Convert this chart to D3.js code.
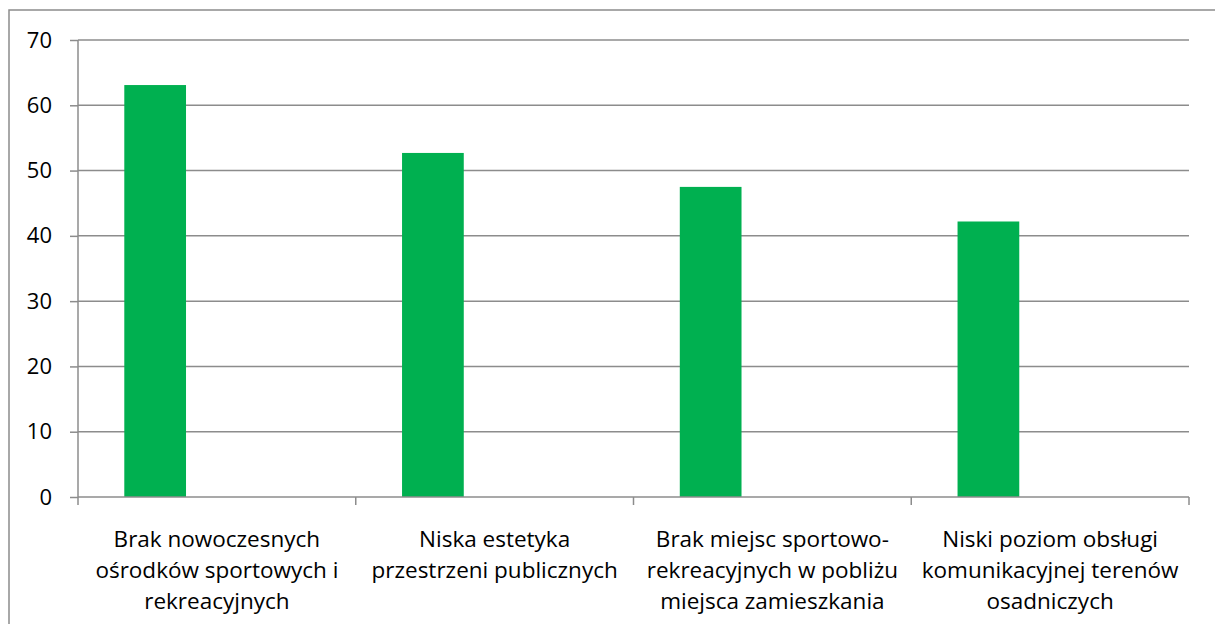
<!DOCTYPE html>
<html>
<head>
<meta charset="utf-8">
<script src="https://cdn.jsdelivr.net/npm/d3@7"></script>
<style>
  body { margin: 0; background: #fff; }
  text { font-family: "Open Sans", Lato, sans-serif; fill: #000; }
</style>
</head>
<body>
<svg id="chart" width="1215" height="624"></svg>
<script>
const categories = [
    'Brak nowoczesnych ośrodków sportowych i rekreacyjnych',
    'Niska estetyka przestrzeni publicznych',
    'Brak miejsc sportowo-rekreacyjnych w pobliżu miejsca zamieszkania',
    'Niski poziom obsługi komunikacyjnej terenów osadniczych'
];
const categoryLines = [
    ['Brak nowoczesnych', 'ośrodków sportowych i', 'rekreacyjnych'],
    ['Niska estetyka', 'przestrzeni publicznych'],
    ['Brak miejsc sportowo-', 'rekreacyjnych w pobliżu', 'miejsca zamieszkania'],
    ['Niski poziom obsługi', 'komunikacyjnej terenów', 'osadniczych']
];
// three series in the source sheet, only the first one holds values
const seriesNames = ['s1', 's2', 's3'];
const values = [63.1, 52.7, 47.5, 42.2];
const yTicks = [0, 10, 20, 30, 40, 50, 60, 70];

const svg = d3.select('#chart');
const margin = { top: 40, right: 26, bottom: 127, left: 78 };
const width = +svg.attr('width') - margin.left - margin.right;
const height = +svg.attr('height') - margin.top - margin.bottom;

// outer chart frame (right and bottom edges fall outside the picture)
svg.append('rect')
    .attr('x', 9).attr('y', 10)
    .attr('width', 1230).attr('height', 640)
    .attr('fill', 'none')
    .attr('stroke', '#8c8c8c')
    .attr('stroke-width', 1.5);

const chartArea = svg.append('g').attr('transform', `translate(${margin.left},${margin.top})`);

const xScale = d3.scaleBand().domain(categories).range([0, width]).paddingInner(0).paddingOuter(0);
const xSub = d3.scaleBand().domain(seriesNames).range([0, xScale.bandwidth()]).paddingInner(0).paddingOuter(0.75);
const yScale = d3.scaleLinear().domain([0, 70]).range([height, 0]);

// gridlines
chartArea.append('g')
    .selectAll('line')
    .data(yTicks.filter(d => d > 0))
    .join('line')
    .attr('x1', 0).attr('x2', width)
    .attr('y1', d => yScale(d)).attr('y2', d => yScale(d))
    .attr('stroke', '#8c8c8c')
    .attr('stroke-width', 1.5);

// bars
chartArea.append('g')
    .selectAll('rect')
    .data(values)
    .join('rect')
    .attr('x', (d, i) => xScale(categories[i]) + xSub('s1'))
    .attr('width', xSub.bandwidth())
    .attr('y', d => yScale(d))
    .attr('height', d => height - yScale(d))
    .attr('fill', '#00b050');

// y axis
const yAxis = chartArea.append('g')
    .call(d3.axisLeft(yScale).tickValues(yTicks).tickSize(8).tickPadding(18));
yAxis.selectAll('line, path').attr('stroke', '#8c8c8c').attr('stroke-width', 1.5);
yAxis.select('.domain').attr('d', `M0,0V${height}`);
yAxis.selectAll('text')
    .style('font-family', '"Open Sans", Lato, sans-serif')
    .style('font-size', '22px')
    .attr('fill', '#000');

// x axis with ticks at category boundaries
const xAxisG = chartArea.append('g').attr('transform', `translate(0,${height})`);
xAxisG.append('line')
    .attr('x1', 0).attr('x2', width)
    .attr('stroke', '#8c8c8c').attr('stroke-width', 1.5);
const bounds = categories.map(c => xScale(c)).concat([width]);
xAxisG.selectAll('line.tick')
    .data(bounds)
    .join('line')
    .attr('class', 'tick')
    .attr('x1', d => d).attr('x2', d => d)
    .attr('y1', 0).attr('y2', 8)
    .attr('stroke', '#8c8c8c').attr('stroke-width', 1.5);

const labels = xAxisG.selectAll('text.cat')
    .data(categories)
    .join('text')
    .attr('class', 'cat')
    .attr('text-anchor', 'middle')
    .style('font-size', '22.5px');
labels.each(function(c, i) {
    const t = d3.select(this);
    categoryLines[i].forEach((line, j) => {
        t.append('tspan')
            .attr('x', xScale(c) + xScale.bandwidth() / 2)
            .attr('y', 50 + j * 31)
            .text(line);
    });
});
</script>
</body>
</html>
